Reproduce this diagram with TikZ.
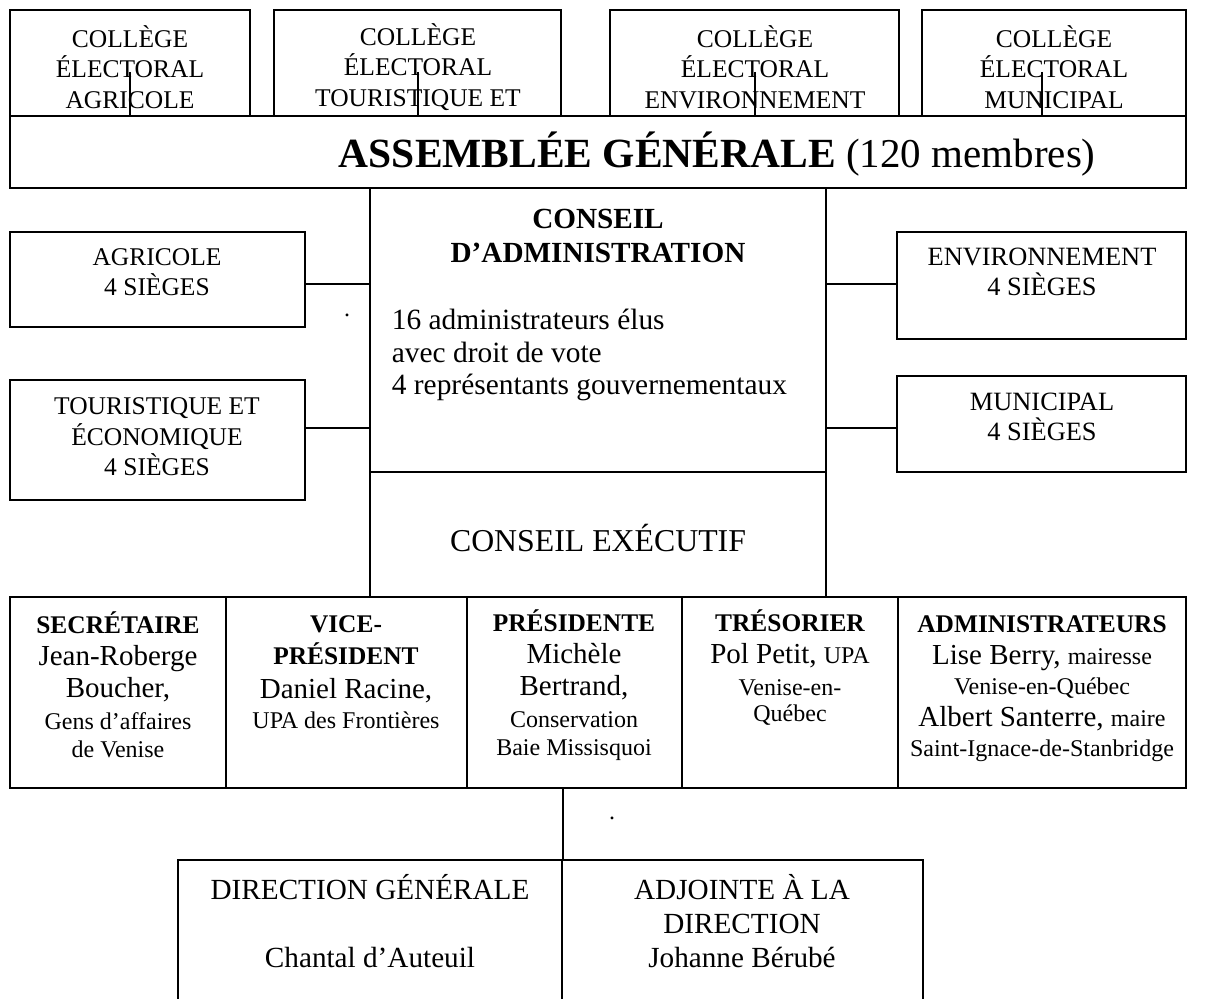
\documentclass[tikz,border=0pt]{standalone}
\usepackage{fontspec}
\setmainfont{Liberation Serif}
\usetikzlibrary{fit}

\begin{document}
\begin{tikzpicture}[x=0.5pt, y=-0.5pt, line width=0.9pt,
    box/.style={draw, inner sep=0pt, line width=0.9pt},
    lbl/.style={inner sep=0pt, align=center, font=\fontsize{12.75}{15.25}\selectfont},
    cell/.style={inner sep=0pt, align=center, font=\fontsize{14.5}{16}\selectfont},
    dir/.style={inner sep=0pt, align=center, font=\fontsize{14.6}{17}\selectfont}]

    \useasboundingbox (0,0) rectangle (1209,999);

    % Colleges
    \node[box, fit={(10,10) (250,116)}] (colA) {};
    \node[box, fit={(274,10) (561,116)}] (colT) {};
    \node[box, fit={(610,10) (899,116)}] (colE) {};
    \node[box, fit={(922,10) (1186,116)}] (colM) {};
    \node[lbl] (colAtxt) at (130,67) {COLLÈGE\\ÉLECTORAL\\AGRICOLE};
    \node[lbl] (colTtxt) at (418,67) {COLLÈGE\\ÉLECTORAL\\TOURISTIQUE ET};
    \node[lbl] (colEtxt) at (755,67) {COLLÈGE\\ÉLECTORAL\\ENVIRONNEMENT};
    \node[lbl] (colMtxt) at (1054,67) {COLLÈGE\\ÉLECTORAL\\MUNICIPAL};

    % Assemblee
    \node[box, fit={(10,116) (1186,188)}] (ag) {};
    \node[anchor=base west, inner sep=0pt] (agtxt) at (338,168) {\fontsize{20.75}{24}\selectfont\bfseries ASSEMBLÉE GÉNÉRALE \mdseries\fontsize{20.5}{24}\selectfont(120 membres)};

    % Conseils
    \node[box, fit={(370,188) (826,472)}] (ca) {};
    \node[box, fit={(370,472) (826,597)}] (ce) {};
    \node[inner sep=0pt, align=center, font=\fontsize{14.6}{17}\selectfont\bfseries] (catitle) at (598,236) {CONSEIL\\D’ADMINISTRATION};
    \node[anchor=west, inner sep=0pt, align=left, font=\fontsize{14.7}{16.25}\selectfont] (catext) at (391,355) {16 administrateurs élus\\avec droit de vote\\4 représentants gouvernementaux};
    \node[inner sep=0pt, font=\fontsize{15.9}{18}\selectfont] (cetxt) at (598,538) {CONSEIL EXÉCUTIF};
    \node[inner sep=0pt, font=\fontsize{12}{14}\selectfont] (dotA) at (347,315) {.};

    % Sieges
    \node[box, fit={(10,232) (305,327)}] (agri) {};
    \node[box, fit={(10,380) (305,500)}] (touri) {};
    \node[box, fit={(897,232) (1186,339)}] (env) {};
    \node[box, fit={(897,376) (1186,472)}] (muni) {};
    \node[lbl] (agritxt) at (157,272) {AGRICOLE\\4 SIÈGES};
    \node[lbl] (touritxt) at (157,437) {TOURISTIQUE ET\\ÉCONOMIQUE\\4 SIÈGES};
    \node[lbl, font=\fontsize{13.2}{15.25}\selectfont] (envtxt) at (1042,272) {ENVIRONNEMENT\\4 SIÈGES};
    \node[lbl, font=\fontsize{13.2}{15.25}\selectfont] (munitxt) at (1042,417) {MUNICIPAL\\4 SIÈGES};

    % Executif
    \node[box, fit={(10,597) (226,788)}] (secr) {};
    \node[box, fit={(226,597) (467,788)}] (vice) {};
    \node[box, fit={(467,597) (682,788)}] (pres) {};
    \node[box, fit={(682,597) (898,788)}] (tres) {};
    \node[box, fit={(898,597) (1186,788)}] (admin) {};
    \node[cell] (secrtxt) at (118,685) {{\bfseries\fontsize{12.7}{16}\selectfont SECRÉTAIRE}\\Jean-Roberge\\Boucher,\\{\fontsize{12}{14}\selectfont Gens d’affaires}\\[-2pt]{\fontsize{12}{14}\selectfont de Venise}};
    \node[cell] (vicetxt) at (346,672) {{\bfseries\fontsize{12.7}{16}\selectfont VICE-}\\{\bfseries\fontsize{12.7}{16}\selectfont PRÉSIDENT}\\[1pt]Daniel Racine,\\[-1pt]{\fontsize{12}{14}\selectfont UPA des Frontières}};
    \node[cell] (prestxt) at (574,685) {{\bfseries\fontsize{12.7}{16}\selectfont PRÉSIDENTE}\\Michèle\\Bertrand,\\{\fontsize{12}{14}\selectfont Conservation}\\[-2pt]{\fontsize{12}{14}\selectfont Baie Missisquoi}};
    \node[cell] (trestxt) at (790,668) {{\bfseries\fontsize{12.7}{16}\selectfont TRÉSORIER}\\Pol Petit, {\fontsize{12}{14}\selectfont UPA}\\{\fontsize{12}{14}\selectfont Venise-en-}\\[-3pt]{\fontsize{12}{14}\selectfont Québec}};
    \node[cell] (admintxt) at (1042,689) {{\bfseries\fontsize{12.7}{16}\selectfont ADMINISTRATEURS}\\Lise Berry, {\fontsize{12}{14}\selectfont mairesse}\\[-1pt]{\fontsize{12}{14}\selectfont Venise-en-Québec}\\Albert Santerre, {\fontsize{12}{14}\selectfont maire}\\[-1pt]{\fontsize{12}{14}\selectfont Saint-Ignace-de-Stanbridge}};

    % Direction
    \node[box, fit={(178,860) (562,1002)}] (dg) {};
    \node[box, fit={(562,860) (923,1002)}] (adj) {};
    \node[dir] (dgtxt) at (370,921) {DIRECTION GÉNÉRALE\\[17pt]Chantal d’Auteuil};
    \node[dir] (adjtxt) at (742,921) {ADJOINTE À LA\\DIRECTION\\Johanne Bérubé};
    \node[inner sep=0pt, font=\fontsize{12}{14}\selectfont] (dotB) at (612,818) {.};

    % Edges
    \coordinate (kA) at (130,72);
    \coordinate (kT) at (418,72);
    \coordinate (kE) at (755,72);
    \coordinate (kM) at (1042,72);
    \foreach \k in {kA,kT,kE,kM}
        \draw (\k) -- (\k |- ag.north);

    \coordinate (j1) at (598,284);
    \coordinate (j2) at (598,428);
    \draw (agri.east |- j1) -- (ca.west |- j1);
    \draw (touri.east |- j2) -- (ca.west |- j2);
    \draw (ca.east |- j1) -- (env.west |- j1);
    \draw (ca.east |- j2) -- (muni.west |- j2);

    \draw (pres.south -| dg.east) -- (dg.north east);

\end{tikzpicture}
\end{document}
